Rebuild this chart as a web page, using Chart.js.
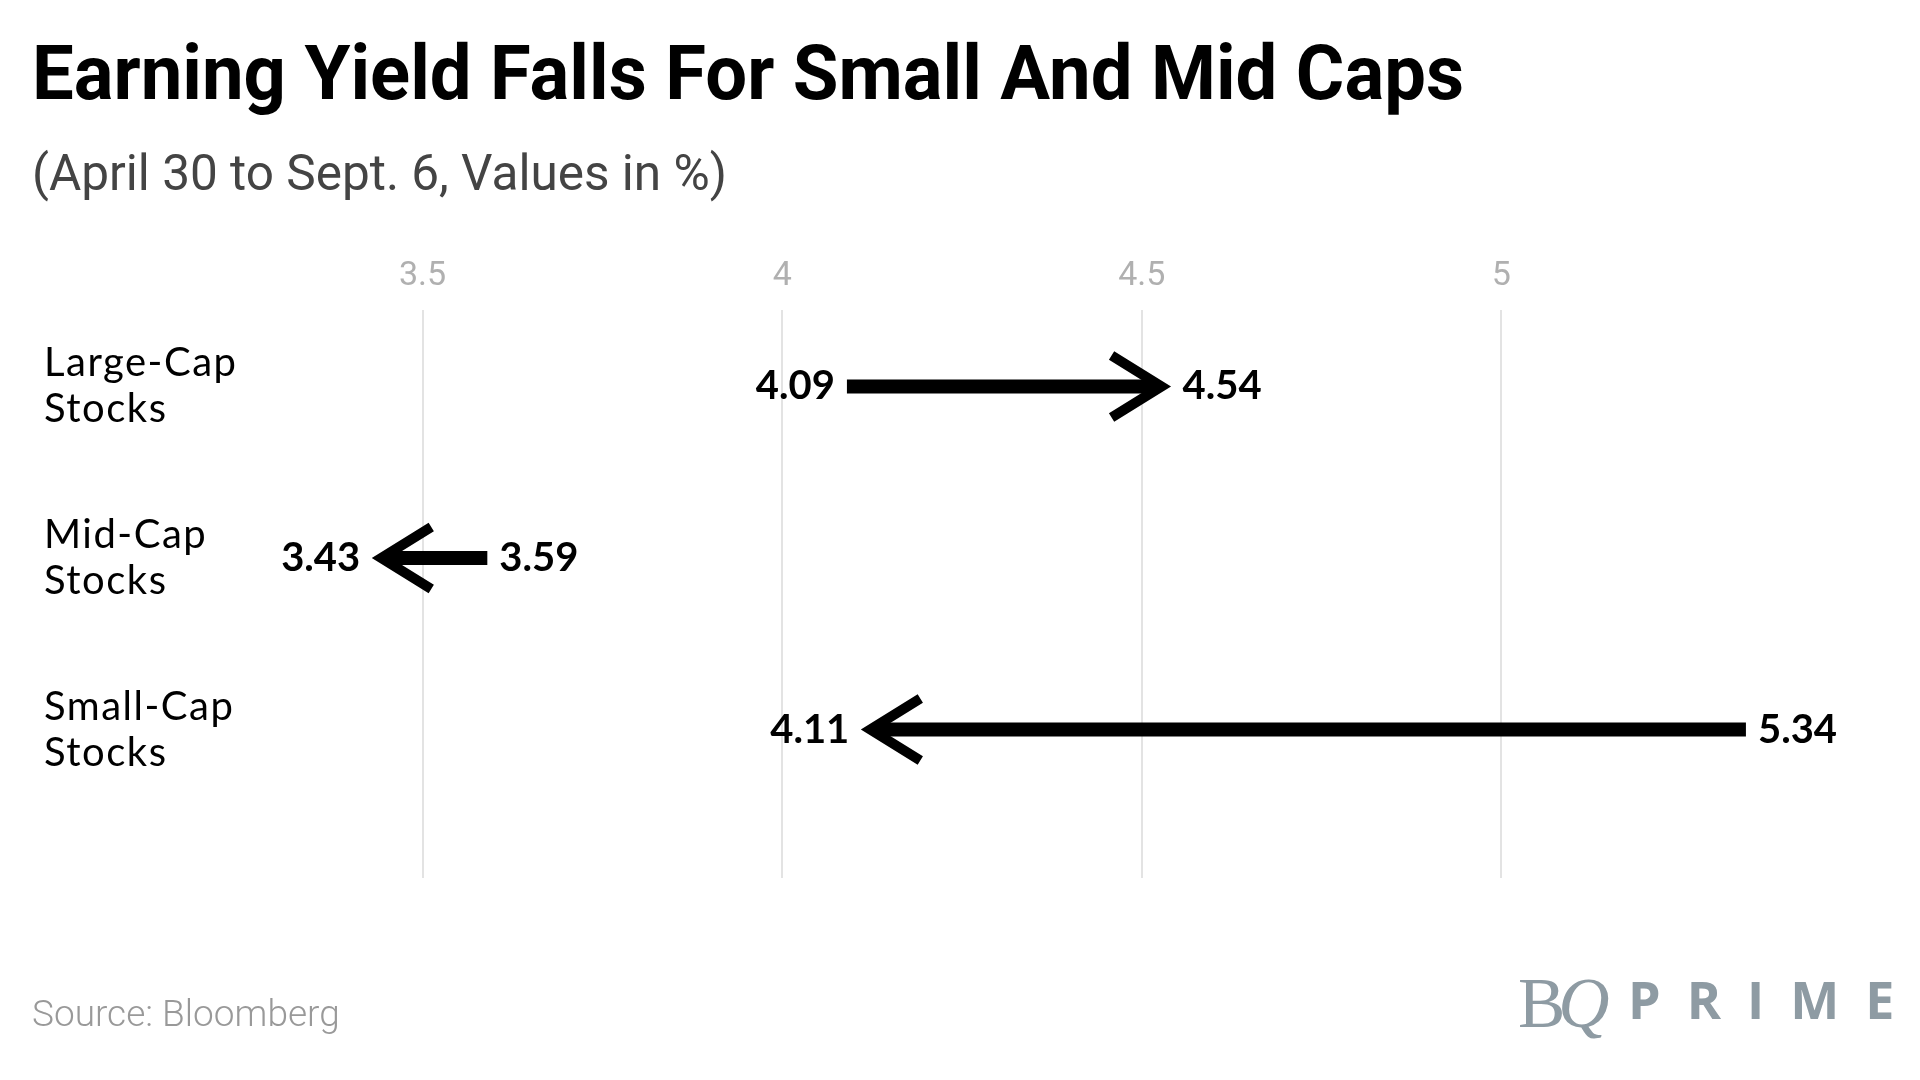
<!DOCTYPE html>
<html>
<head>
<meta charset="utf-8">
<script src="https://cdn.jsdelivr.net/npm/chart.js@4.4.0/dist/chart.umd.min.js"></script>
<style>
  html, body { margin: 0; padding: 0; background: #fff; }
  #wrap { position: relative; width: 1920px; height: 1080px; overflow: hidden; }
  #titulo {
    position: absolute; left: 32px; top: 28px; margin: 0;
    font: bold 76px Roboto, sans-serif; color: #000; white-space: nowrap;
    transform: scaleX(0.977); transform-origin: left top;
  }
  #subtitulo {
    position: absolute; left: 32px; top: 144px; margin: 0;
    font: 49.5px Roboto, sans-serif; color: #444; white-space: nowrap;
  }
  #fonte {
    position: absolute; left: 32px; top: 992px;
    font: 300 37px Roboto, sans-serif; color: #999;
  }
  .logo { position: absolute; color: #8e9ba3; white-space: nowrap; line-height: 1; }
  #bq { left: 1518px; top: 963px; font: 71px "Liberation Serif", serif; letter-spacing: -7px; }
  #bq i { font-style: italic; }
  #prime { left: 1628px; top: 963px; font: bold 52px "Open Sans", sans-serif; letter-spacing: 26px; }
  canvas { position: absolute; left: 0; top: 0; }
</style>
</head>
<body>
<div id="wrap">
  <h1 id="titulo">Earning Yield Falls For Small And Mid Caps</h1>
  <p id="subtitulo">(April 30 to Sept. 6, Values in %)</p>
  <canvas id="grafico" width="1920" height="1080"></canvas>
  <div id="fonte">Source: Bloomberg</div>
  <span class="logo" id="bq">B<i>Q</i></span>
  <span class="logo" id="prime">PRIME</span>
</div>
<script>
const categorias = [["Large-Cap", "Stocks"], ["Mid-Cap", "Stocks"], ["Small-Cap", "Stocks"]];
const inicio = [4.09, 3.59, 5.34];   // April 30
const fim = [4.54, 3.43, 4.11];      // Sept. 6
const ticksX = [3.5, 4, 4.5, 5];

const datasets = categorias.map((cat, i) => ({
  label: cat.join(" "),
  data: [{ x: inicio[i], y: i }, { x: fim[i], y: i }],
  borderColor: "#000",
  borderWidth: 14,
  borderCapStyle: "butt",
  pointRadius: 0,
  showLine: true,
  fill: false
}));

// setas e rotulos
const setas = {
  id: "setas",
  // corta a haste antes da ponta
  beforeDatasetDraw(chart, args) {
    const { ctx, scales: { x } } = chart;
    const i = args.index;
    const x1 = x.getPixelForValue(fim[i]);
    const dir = x1 > x.getPixelForValue(inicio[i]) ? 1 : -1;
    const corte = x1 - dir * 14;
    ctx.save();
    ctx.beginPath();
    if (dir > 0) ctx.rect(0, 0, corte, chart.height);
    else ctx.rect(corte, 0, chart.width - corte, chart.height);
    ctx.clip();
  },
  afterDatasetDraw(chart) {
    chart.ctx.restore();
  },
  afterDatasetsDraw(chart) {
    const { ctx, scales: { x, y } } = chart;
    ctx.save();
    categorias.forEach((cat, i) => {
      const py = y.getPixelForValue(i);
      const x0 = x.getPixelForValue(inicio[i]);
      const x1 = x.getPixelForValue(fim[i]);
      const dir = x1 > x0 ? 1 : -1;

      // ponta aberta
      const bx = x1 - dir * 9;
      ctx.strokeStyle = "#000";
      ctx.lineWidth = 10;
      ctx.lineJoin = "miter";
      ctx.beginPath();
      ctx.moveTo(bx - dir * 50, py - 31);
      ctx.lineTo(bx, py);
      ctx.lineTo(bx - dir * 50, py + 31);
      ctx.stroke();

      // valores
      ctx.fillStyle = "#000";
      ctx.font = "bold 40px Lato, sans-serif";
      ctx.textBaseline = "middle";
      ctx.textAlign = dir > 0 ? "right" : "left";
      ctx.fillText(inicio[i].toFixed(2), x0 - dir * 12, py);
      ctx.textAlign = dir > 0 ? "left" : "right";
      ctx.fillText(fim[i].toFixed(2), x1 + dir * 12, py);

      // categoria
      ctx.font = "40px Lato, sans-serif";
      ctx.letterSpacing = "1.5px";
      ctx.textAlign = "left";
      ctx.fillText(cat[0], 44, py - 23);
      ctx.fillText(cat[1], 44, py + 23);
      ctx.letterSpacing = "0px";
    });
    ctx.restore();
  }
};

new Chart(document.getElementById("grafico"), {
  type: "scatter",
  data: { datasets },
  options: {
    responsive: false,
    animation: false,
    layout: { padding: { left: 63, right: 59, top: 243, bottom: 202 } },
    plugins: { legend: { display: false }, tooltip: { enabled: false } },
    scales: {
      x: {
        type: "linear",
        position: "top",
        min: 3.0,
        max: 5.5,
        afterBuildTicks: (axis) => { axis.ticks = ticksX.map(v => ({ value: v })); },
        border: { display: false },
        grid: { color: "#e3e3e3", lineWidth: 2, drawTicks: false },
        ticks: {
          padding: 13,
          color: "#b0b0b0",
          font: { family: "Roboto", size: 34, weight: 400 },
          callback: (v) => String(v)
        }
      },
      y: {
        type: "linear",
        reverse: true,
        min: -0.447,
        max: 2.865,
        display: false
      }
    }
  },
  plugins: [setas]
});
</script>
</body>
</html>
